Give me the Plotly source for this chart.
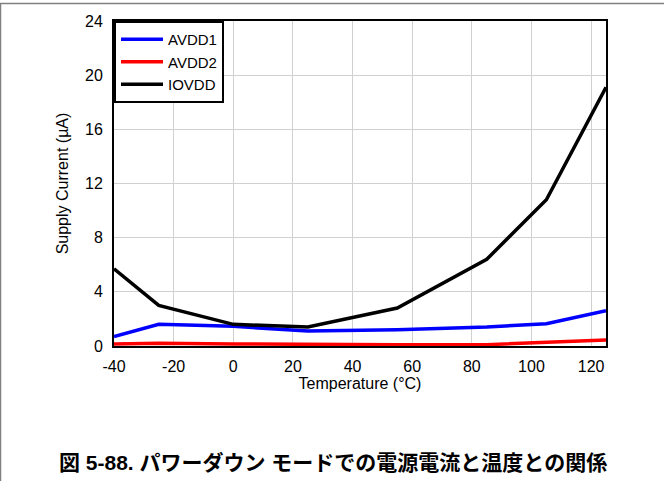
import plotly.graph_objects as go

# Supply current in power-down mode versus temperature
temperature = [-40, -25, 0, 25, 55, 85, 105, 125]
avdd1 = [0.7, 1.6, 1.45, 1.1, 1.2, 1.4, 1.65, 2.6]
avdd2 = [0.15, 0.2, 0.15, 0.1, 0.1, 0.1, 0.25, 0.45]
iovdd = [5.7, 3.0, 1.6, 1.4, 2.8, 6.4, 10.8, 19.1]

series_names = ["AVDD1", "AVDD2", "IOVDD"]
series_colors = ["#0000ff", "#ff0000", "#000000"]
x_ticks = [-40, -20, 0, 20, 40, 60, 80, 100, 120]
x_tick_text = ["-40", "-20", "0", "20", "40", "60", "80", "100", "120"]
y_ticks = [0, 4, 8, 12, 16, 20, 24]

W, H = 664, 481
ML, MR, MT, MB = 114, 58, 21, 135
PW, PH = W - ML - MR, H - MT - MB

fig = go.Figure()
for name, vals, col in zip(series_names, [avdd1, avdd2, iovdd], series_colors):
    fig.add_trace(go.Scatter(x=temperature, y=vals, mode="lines", name=name,
                             line=dict(color=col, width=3.5)))

font = "Arial"
axis_common = dict(showline=True, linecolor="black", linewidth=2, mirror=True,
                   showgrid=True, gridcolor="#d0d0d0", gridwidth=1,
                   zeroline=False, ticks="",
                   tickfont=dict(size=16, color="black", family=font))

fig.update_layout(
    width=W, height=H,
    margin=dict(l=ML, r=MR, t=MT, b=MB),
    paper_bgcolor="white", plot_bgcolor="white",
    font=dict(family=font, color="black"),
    xaxis=dict(range=[-40, 125], tickvals=x_ticks, ticktext=x_tick_text,
               ticklabelstandoff=5,
               title=dict(text="Temperature (°C)", font=dict(size=16), standoff=2),
               **axis_common),
    yaxis=dict(range=[0, 24], tickvals=y_ticks, ticklabelstandoff=6,
               title=dict(text="Supply Current (µA)", font=dict(size=16), standoff=12),
               **axis_common),
    legend=dict(x=0, y=1, xanchor="left", yanchor="top",
                bgcolor="white", bordercolor="black", borderwidth=2,
                font=dict(size=15, family=font), tracegroupgap=0,
                itemwidth=42),
    showlegend=True,
)

# Page frame: thin gray rule along the top and the left edge
fig.add_shape(type="line", xref="paper", yref="paper",
              x0=-ML / PW, x1=(W - ML) / PW,
              y0=1 + (MT - 3.5) / PH, y1=1 + (MT - 3.5) / PH,
              line=dict(color="#808080", width=1.5))
fig.add_shape(type="line", xref="paper", yref="paper",
              x0=-(ML - 0.5) / PW, x1=-(ML - 0.5) / PW,
              y0=-MB / PH, y1=1 + (MT - 3.5) / PH,
              line=dict(color="#808080", width=1.5))

# Figure caption
fig.add_annotation(text="<b>図 5-88. パワーダウン モードでの電源電流と温度との関係</b>",
                   xref="paper", yref="paper",
                   x=(333 - ML) / PW, y=-(463 - MT - PH) / PH,
                   xanchor="center", yanchor="middle", showarrow=False,
                   font=dict(size=21, family="Liberation Sans, Noto Sans CJK JP",
                             color="black"))

fig.write_html("out.html")
